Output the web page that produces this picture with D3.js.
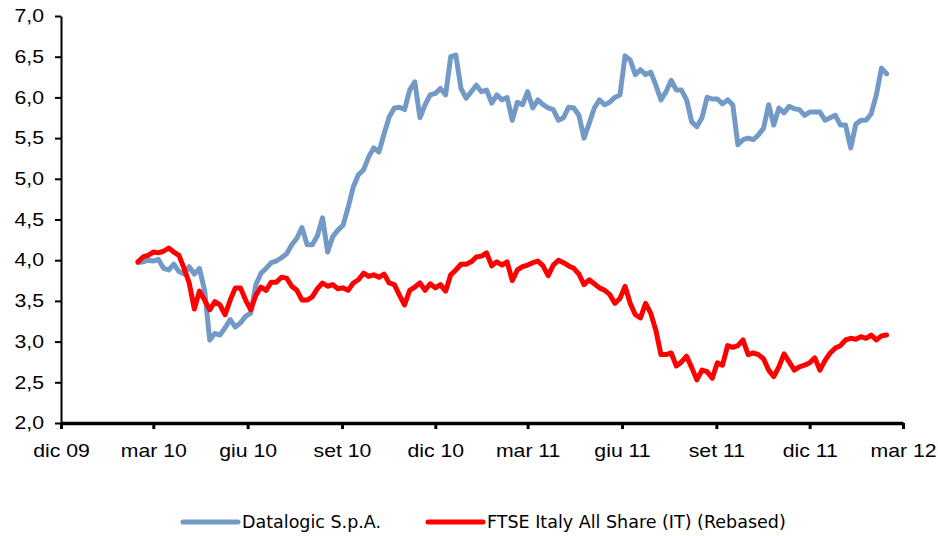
<!DOCTYPE html>
<html lang="it">

<head>
    <meta charset="UTF-8">
    <style>
        body { margin: 0; background: #fff; }
        .chart-svg { width: 938px; height: 536px; display: block; }
    </style>
    <script src="https://d3js.org/d3.v7.min.js"></script>
</head>

<body>

    <svg class="chart-svg" xmlns="http://www.w3.org/2000/svg"></svg>

    <script>
        // Sample dates (every ~5 days)
        const dates = [
            "2010-02-14", "2010-02-19", "2010-02-24", "2010-03-01", "2010-03-06", "2010-03-11", "2010-03-16", "2010-03-21", "2010-03-26", "2010-03-31",
            "2010-04-05", "2010-04-10", "2010-04-15", "2010-04-20", "2010-04-25", "2010-04-30", "2010-05-05", "2010-05-10", "2010-05-15", "2010-05-20",
            "2010-05-25", "2010-05-30", "2010-06-04", "2010-06-09", "2010-06-14", "2010-06-19", "2010-06-24", "2010-06-29", "2010-07-04", "2010-07-09",
            "2010-07-14", "2010-07-19", "2010-07-24", "2010-07-29", "2010-08-03", "2010-08-08", "2010-08-13", "2010-08-18", "2010-08-23", "2010-08-28",
            "2010-09-02", "2010-09-07", "2010-09-12", "2010-09-17", "2010-09-22", "2010-09-27", "2010-10-02", "2010-10-07", "2010-10-12", "2010-10-17",
            "2010-10-22", "2010-10-27", "2010-11-01", "2010-11-06", "2010-11-11", "2010-11-16", "2010-11-21", "2010-11-26", "2010-12-01", "2010-12-06",
            "2010-12-11", "2010-12-16", "2010-12-21", "2010-12-26", "2010-12-31", "2011-01-05", "2011-01-10", "2011-01-15", "2011-01-20", "2011-01-25",
            "2011-01-30", "2011-02-04", "2011-02-09", "2011-02-14", "2011-02-19", "2011-02-24", "2011-03-01", "2011-03-06", "2011-03-11", "2011-03-16",
            "2011-03-21", "2011-03-26", "2011-03-31", "2011-04-05", "2011-04-10", "2011-04-15", "2011-04-20", "2011-04-25", "2011-04-30", "2011-05-05",
            "2011-05-10", "2011-05-15", "2011-05-20", "2011-05-25", "2011-05-30", "2011-06-04", "2011-06-09", "2011-06-14", "2011-06-19", "2011-06-24",
            "2011-06-29", "2011-07-04", "2011-07-09", "2011-07-14", "2011-07-19", "2011-07-24", "2011-07-29", "2011-08-03", "2011-08-08", "2011-08-13",
            "2011-08-18", "2011-08-23", "2011-08-28", "2011-09-02", "2011-09-07", "2011-09-12", "2011-09-17", "2011-09-22", "2011-09-27", "2011-10-02",
            "2011-10-07", "2011-10-12", "2011-10-17", "2011-10-22", "2011-10-27", "2011-11-01", "2011-11-06", "2011-11-11", "2011-11-16", "2011-11-21",
            "2011-11-26", "2011-12-01", "2011-12-06", "2011-12-11", "2011-12-16", "2011-12-21", "2011-12-26", "2011-12-31", "2012-01-05", "2012-01-10",
            "2012-01-15", "2012-01-20", "2012-01-25", "2012-01-30", "2012-02-04", "2012-02-09", "2012-02-14"
        ];

        // Datalogic S.p.A.
        const datalogic = [
            3.97, 3.98, 4.00, 3.99, 4.01, 3.90, 3.88, 3.95, 3.86, 3.83,
            3.92, 3.83, 3.90, 3.63, 3.02, 3.10, 3.08, 3.17, 3.27, 3.18,
            3.23, 3.31, 3.35, 3.70, 3.84, 3.90, 3.97, 3.99, 4.03, 4.08,
            4.19, 4.27, 4.40, 4.19, 4.19, 4.30, 4.52, 4.10, 4.29, 4.37,
            4.43, 4.65, 4.90, 5.05, 5.11, 5.27, 5.38, 5.33, 5.55, 5.76,
            5.87, 5.88, 5.85, 6.09, 6.19, 5.75, 5.91, 6.03, 6.05, 6.11,
            6.03, 6.50, 6.52, 6.11, 5.99, 6.07, 6.15, 6.07, 6.09, 5.93,
            6.03, 5.97, 6.00, 5.72, 5.94, 5.91, 6.07, 5.87, 5.97, 5.91,
            5.87, 5.85, 5.72, 5.75, 5.88, 5.87, 5.78, 5.50, 5.68, 5.87,
            5.97, 5.91, 5.94, 6.00, 6.03, 6.51, 6.46, 6.28, 6.34, 6.28,
            6.31, 6.15, 5.97, 6.07, 6.21, 6.09, 6.09, 5.97, 5.70, 5.64,
            5.75, 6.00, 5.98, 5.98, 5.92, 5.97, 5.91, 5.42, 5.48, 5.50,
            5.48, 5.54, 5.62, 5.91, 5.66, 5.87, 5.81, 5.89, 5.86, 5.85,
            5.78, 5.82, 5.82, 5.82, 5.72, 5.75, 5.78, 5.66, 5.66, 5.38,
            5.67, 5.72, 5.72, 5.80, 6.03, 6.36, 6.29
        ];

        // FTSE Italy All Share (IT) (Rebased)
        const ftse = [
            3.98, 4.04, 4.06, 4.10, 4.09, 4.11, 4.15, 4.10, 4.06, 3.90,
            3.72, 3.40, 3.62, 3.51, 3.39, 3.49, 3.45, 3.33, 3.51, 3.66,
            3.66, 3.51, 3.39, 3.57, 3.67, 3.63, 3.73, 3.73, 3.79, 3.78,
            3.68, 3.63, 3.51, 3.51, 3.55, 3.65, 3.72, 3.68, 3.70, 3.65,
            3.66, 3.63, 3.72, 3.76, 3.84, 3.80, 3.82, 3.79, 3.83, 3.72,
            3.70, 3.57, 3.45, 3.63, 3.67, 3.72, 3.63, 3.71, 3.66, 3.70,
            3.62, 3.82, 3.88, 3.95, 3.95, 3.98, 4.04, 4.05, 4.09, 3.93,
            3.98, 3.94, 3.98, 3.75, 3.88, 3.92, 3.94, 3.97, 3.99, 3.93,
            3.81, 3.94, 4.00, 3.97, 3.93, 3.90, 3.83, 3.70, 3.76, 3.71,
            3.66, 3.63, 3.58, 3.47, 3.53, 3.68, 3.47, 3.33, 3.29, 3.47,
            3.35, 3.14, 2.84, 2.84, 2.86, 2.70, 2.75, 2.82, 2.68, 2.53,
            2.65, 2.63, 2.55, 2.74, 2.71, 2.95, 2.93, 2.95, 3.02, 2.84,
            2.86, 2.84, 2.79, 2.65, 2.57, 2.69, 2.85, 2.75, 2.65, 2.69,
            2.71, 2.74, 2.80, 2.65, 2.77, 2.86, 2.92, 2.95, 3.02, 3.04,
            3.03, 3.06, 3.04, 3.08, 3.02, 3.07, 3.08
        ];

        // Axis ticks
        const xTickDates = ["2009-12-01", "2010-03-01", "2010-06-01", "2010-09-01", "2010-12-01",
            "2011-03-01", "2011-06-01", "2011-09-01", "2011-12-01", "2012-03-01"];
        const xTickLabels = ["dic 09", "mar 10", "giu 10", "set 10", "dic 10",
            "mar 11", "giu 11", "set 11", "dic 11", "mar 12"];
        const yTicks = [2.0, 2.5, 3.0, 3.5, 4.0, 4.5, 5.0, 5.5, 6.0, 6.5, 7.0];

        const seriesNames = ["Datalogic S.p.A.", "FTSE Italy All Share (IT) (Rebased)"];
        const seriesColors = ["#7399c6", "#ff0000"];

        const parse = d3.timeParse("%Y-%m-%d");
        const itFormat = d3.formatLocale({ decimal: ",", thousands: ".", grouping: [3], currency: ["€", ""] }).format(".1f");

        const svg = d3.select(".chart-svg");

        // Plot area
        const plotLeft = 61, plotRight = 903, plotTop = 16, plotBottom = 423;

        const x = d3.scaleTime()
            .domain([parse("2009-12-01"), parse("2012-03-01")])
            .range([plotLeft, plotRight]);

        const y = d3.scaleLinear()
            .domain([2, 7])
            .range([plotBottom, plotTop]);

        const textStretch = 1.18; // the original labels are a bit wider than Arial

        // Y axis
        const yAxis = svg.append("g")
            .attr("transform", `translate(${plotLeft},0)`)
            .call(d3.axisLeft(y).tickValues(yTicks).tickSize(6).tickSizeOuter(0).tickFormat(itFormat));

        yAxis.select(".domain").attr("stroke", "#000").attr("stroke-width", 2);
        yAxis.selectAll(".tick line").attr("stroke", "#000").attr("stroke-width", 2);
        yAxis.selectAll(".tick text")
            .attr("x", -17 / textStretch)
            .attr("transform", `scale(${textStretch},1)`)
            .attr("font-family", "'Liberation Sans', Arial, sans-serif")
            .attr("font-size", "18px")
            .attr("fill", "#000");

        // X axis
        const xAxis = svg.append("g")
            .attr("transform", `translate(0,${plotBottom})`)
            .call(d3.axisBottom(x)
                .tickValues(xTickDates.map(parse))
                .tickSize(6)
                .tickSizeOuter(0)
                .tickFormat((d, i) => xTickLabels[i]));

        xAxis.select(".domain").attr("stroke", "#000").attr("stroke-width", 3.5);
        xAxis.selectAll(".tick line").attr("stroke", "#000").attr("stroke-width", 3);
        xAxis.selectAll(".tick text")
            .attr("y", 21)
            .attr("transform", `scale(${textStretch},1)`)
            .attr("font-family", "'Liberation Sans', Arial, sans-serif")
            .attr("font-size", "18px")
            .attr("fill", "#000");

        // Lines
        const line = d3.line()
            .x(d => x(d.date))
            .y(d => y(d.value));

        [datalogic, ftse].forEach((values, i) => {
            const points = values.map((v, j) => ({ date: parse(dates[j]), value: v }));
            svg.append("path")
                .datum(points)
                .attr("d", line)
                .attr("fill", "none")
                .attr("stroke", seriesColors[i])
                .attr("stroke-width", 5)
                .attr("stroke-linejoin", "round")
                .attr("stroke-linecap", "round");
        });

        // Legend
        const legendX = [183, 428];
        const legend = svg.selectAll("g.legend-item")
            .data(seriesNames)
            .enter()
            .append("g")
            .attr("class", "legend-item")
            .attr("transform", (d, i) => `translate(${legendX[i]},522)`);

        legend.append("line")
            .attr("x1", 0)
            .attr("x2", 55)
            .attr("stroke", (d, i) => seriesColors[i])
            .attr("stroke-width", 5)
            .attr("stroke-linecap", "round");

        legend.append("text")
            .attr("x", 59)
            .attr("dy", "0.36em")
            .attr("font-family", "'DejaVu Sans', Verdana, sans-serif")
            .attr("font-size", "17.5px")
            .attr("fill", "#000")
            .text(d => d);
    </script>

</body>

</html>
